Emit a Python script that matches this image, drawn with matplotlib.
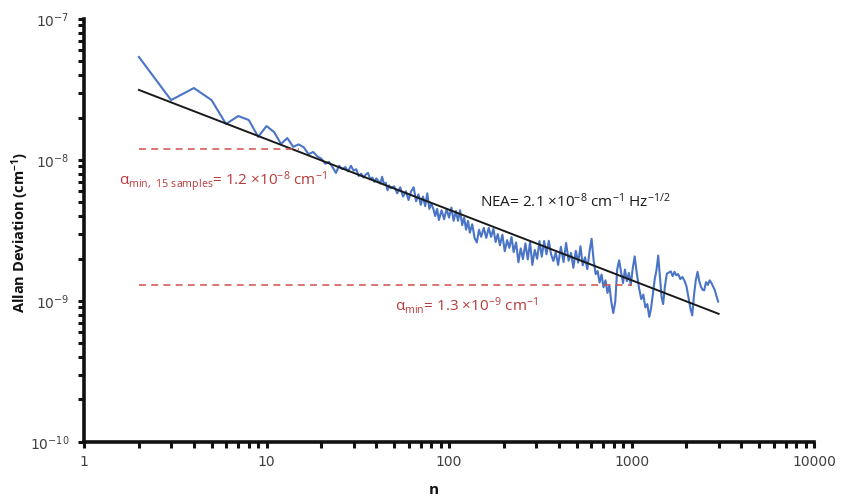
import numpy as np
import matplotlib.pyplot as plt
from matplotlib.ticker import LogLocator, NullFormatter

plt.rcParams['mathtext.fontset'] = 'custom'
plt.rcParams['mathtext.rm'] = 'Open Sans'
plt.rcParams['mathtext.it'] = 'Open Sans'
plt.rcParams['mathtext.bf'] = 'Open Sans:bold'

# averaging size n and Allan deviation (units of 1e-9 cm^-1)
n_samples = [
    2, 3, 4, 5, 6, 7, 8, 9, 10, 11, 12, 13, 14, 15, 16, 17, 18, 19,
    20, 21, 22, 23, 24, 25, 26, 27, 28, 29, 30, 31, 32, 33, 34, 35, 36, 37, 38, 39,
    40, 42, 43, 44, 45, 46, 47, 48, 50,
    52, 54, 56, 58, 60, 62, 64, 66, 68, 70, 72, 74, 76, 78, 80, 82, 84, 86, 88,
    91, 94, 97, 100, 103, 106, 109, 112, 115, 118, 121, 124, 127, 130, 134, 138,
    142, 146, 150,
    155, 160, 165, 170, 175, 180, 185, 190, 196, 202, 208, 214, 220, 226, 233,
    240, 247, 254, 262, 270, 278, 286, 295, 304, 313, 322, 332, 342, 352, 362,
    373, 384, 396,
    410, 424, 438, 452, 466, 480, 495, 510, 525, 540, 556, 572, 588, 604, 620,
    636, 652, 668, 685, 702, 720, 738, 756, 775, 794, 814, 834, 855, 876, 898,
    920, 943, 966, 990, 1015, 1040,
    1070, 1100, 1130, 1160, 1190, 1220, 1250, 1280, 1310, 1340, 1370, 1400, 1430,
    1460, 1490, 1520, 1560, 1600, 1640, 1680, 1720, 1760, 1800, 1850, 1900, 1950,
    2000, 2050, 2100, 2150, 2200, 2250, 2300, 2350, 2400, 2450, 2500, 2560, 2620,
    2680, 2740, 2800, 2860, 2920, 2980,
]
adev_e9 = [
    53.8, 26.6, 32.4, 26.6, 18.0, 20.5, 19.2, 14.6, 17.4, 15.8, 13.0, 14.3, 12.4,
    12.9, 12.3, 11.0, 11.4, 10.6,
    10.2, 9.4, 9.7, 8.9, 8.1, 9.1, 8.6, 8.9, 8.3, 9.1, 8.4, 8.6, 7.7, 8.0, 7.5,
    7.9, 8.1, 7.3, 7.5, 7.0,
    7.4, 6.8, 7.6, 6.7, 6.9, 6.1, 6.6, 6.3, 6.5,
    5.8, 6.4, 5.5, 6.0, 5.2, 6.0, 6.4, 5.1, 5.7, 4.8, 5.5, 4.7, 5.8,
    4.5, 4.9, 4.5, 4.0, 4.5, 3.75,
    4.4, 3.8, 4.5, 3.9, 4.6, 3.7, 4.35, 3.7, 4.4, 3.45, 3.9, 3.2, 3.7,
    3.05, 3.5, 2.8, 2.6, 3.2, 2.85,
    3.3, 2.8, 3.3, 2.85, 3.25, 2.62, 2.98, 2.48, 2.95, 2.25, 2.7, 2.38, 2.84,
    2.22, 2.6, 1.88, 2.36, 1.98, 2.56, 1.97, 2.62, 1.8, 2.3, 1.99, 2.66, 2.06,
    2.66, 2.14, 2.67, 2.15, 1.92, 2.21, 1.8,
    2.42, 1.89, 2.58, 1.93, 2.19, 1.72, 2.27, 1.87, 2.44, 1.79, 2.04, 1.68, 2.23,
    2.76, 1.93, 1.55, 1.63, 1.35, 1.54, 1.25, 1.40, 1.14, 1.29, 0.98, 0.82, 0.985,
    1.67, 1.94, 1.60, 1.34, 1.67, 1.38, 1.58, 1.30, 1.70, 2.07,
    1.55, 1.23, 1.03, 1.11, 0.90, 0.95, 0.77, 0.89, 1.13, 1.43, 1.66, 2.10, 1.50,
    1.07, 0.95, 1.24, 1.56, 1.59, 1.62, 1.50, 1.61, 1.52, 1.55, 1.43, 1.48, 1.39,
    1.27, 1.06, 0.89, 0.79, 1.11, 1.41, 1.61, 1.38, 1.26, 1.20, 1.19, 1.36, 1.30,
    1.40, 1.34, 1.26, 1.19, 1.08, 0.99,
]

# n^-1/2 fit end points
fit_n = [2, 3000]
fit_adev = [3.14e-8, 8.1e-10]

# minimum deviation levels
alpha_15 = 1.2e-8
alpha_15_span = [2, 15]
alpha_min = 1.3e-9
alpha_min_span = [2, 1000]

adev = np.array(adev_e9) * 1e-9

fig = plt.figure(figsize=(8.45, 5.01), dpi=100)
ax = fig.add_axes([0.0994, 0.118, 0.864, 0.844])

ax.plot(n_samples, adev, color='#4a74c6', lw=1.5)
ax.plot(fit_n, fit_adev, color='#1a1a1a', lw=1.4)
ax.plot(alpha_15_span, [alpha_15, alpha_15], color='#d0504c', lw=1.1,
        dashes=(4.5, 3.5))
ax.plot(alpha_min_span, [alpha_min, alpha_min], color='#d0504c', lw=1.1,
        dashes=(4.5, 3.5))

ax.set_xscale('log')
ax.set_yscale('log')
ax.set_xlim(1, 10000)
ax.set_ylim(1e-10, 1e-7)

for side in ['top', 'right']:
    ax.spines[side].set_visible(False)
for side in ['left', 'bottom']:
    ax.spines[side].set_linewidth(2.6)
    ax.spines[side].set_color('#111111')

ax.xaxis.set_minor_locator(LogLocator(base=10, subs=np.arange(2, 10), numticks=20))
ax.yaxis.set_minor_locator(LogLocator(base=10, subs=np.arange(2, 10), numticks=20))
ax.xaxis.set_minor_formatter(NullFormatter())
ax.yaxis.set_minor_formatter(NullFormatter())
ax.set_xticks([1, 10, 100, 1000, 10000])
ax.set_xticklabels(['1', '10', '100', '1000', '10000'])
ax.set_yticks([1e-10, 1e-9, 1e-8, 1e-7])
ax.set_yticklabels([r'10$^{\mathsf{-10}}$', r'10$^{\mathsf{-9}}$',
                    r'10$^{\mathsf{-8}}$', r'10$^{\mathsf{-7}}$'])
ax.tick_params(which='both', direction='out', color='#111111', width=2.2,
               length=4.5, labelsize=10, labelcolor='#404040')
ax.tick_params(axis='x', pad=5)
ax.tick_params(axis='y', pad=6)

fig.text(0.024, 1 - 232 / 501, 'Allan Deviation (cm$^{\\mathbf{-1}}$)', rotation=90,
         ha='center', va='center', fontsize=10.5, fontweight='bold',
         family='Open Sans', color='#111111')
fig.text(0.513, 0.022, 'n', ha='center', va='center', fontsize=11,
         fontweight='bold', family='Open Sans', color='#111111')

red = '#b83a3a'
fig.text(119 / 845, 1 - 182 / 501,
         r'$\alpha_{\mathrm{min,\ 15\ samples}}$= 1.2 ×10$^{-8}$ cm$^{-1}$',
         ha='left', va='center', fontsize=11, color=red, family='Open Sans')
fig.text(395 / 845, 1 - 305 / 501,
         r'$\alpha_{\mathrm{min}}$= 1.3 ×10$^{-9}$ cm$^{-1}$',
         ha='left', va='center', fontsize=11, color=red, family='Open Sans')
fig.text(480 / 845, 1 - 202 / 501,
         r'NEA= 2.1 ×10$^{-8}$ cm$^{-1}$ Hz$^{-1/2}$',
         ha='left', va='center', fontsize=11, color='#1a1a1a', family='Open Sans')

fig.savefig('out.png', dpi=100)
